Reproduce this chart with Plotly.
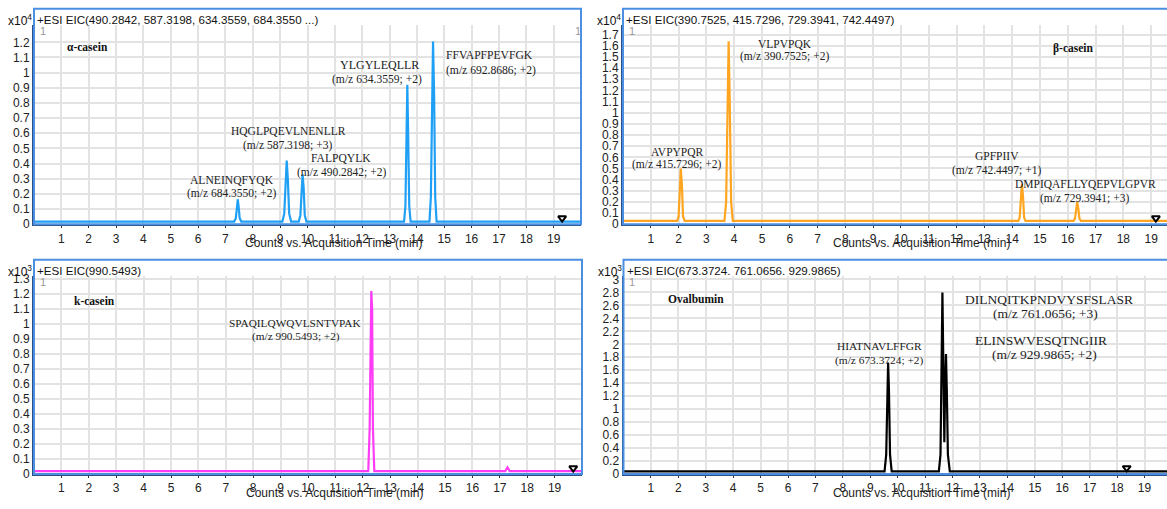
import plotly.graph_objects as go

# ---------------- data ----------------
x_ticks = list(range(1, 20))

# alpha-casein EIC, counts x10^4
alpha_time = [0.0, 7.32, 7.38, 7.42, 7.45, 7.48, 7.52, 7.58,
              9.08, 9.15, 9.20, 9.24, 9.28, 9.33, 9.40,
              9.68, 9.74, 9.78, 9.82, 9.86, 9.90, 9.96,
              13.53, 13.58, 13.62, 13.65, 13.68, 13.72, 13.77,
              14.46, 14.51, 14.55, 14.59, 14.63, 14.67, 14.72, 20.0]
alpha_counts = [0.018, 0.018, 0.04, 0.12, 0.165, 0.12, 0.04, 0.018,
                0.018, 0.07, 0.30, 0.42, 0.30, 0.07, 0.018,
                0.018, 0.06, 0.24, 0.33, 0.24, 0.06, 0.018,
                0.018, 0.12, 0.60, 0.92, 0.60, 0.12, 0.018,
                0.018, 0.18, 0.85, 1.205, 0.85, 0.18, 0.018, 0.018]
alpha_yticks = [0, 0.1, 0.2, 0.3, 0.4, 0.5, 0.6, 0.7, 0.8, 0.9, 1.0, 1.1, 1.2]

# beta-casein EIC, counts x10^4
beta_time = [0.0, 1.95, 2.00, 2.04, 2.08, 2.12, 2.16, 2.22,
             3.65, 3.71, 3.76, 3.80, 3.84, 3.89, 3.95,
             14.22, 14.27, 14.31, 14.35, 14.39, 14.43, 14.48,
             16.21, 16.26, 16.30, 16.34, 16.38, 16.42, 16.47, 20.0]
beta_counts = [0.03, 0.03, 0.07, 0.35, 0.50, 0.35, 0.07, 0.03,
               0.03, 0.20, 1.10, 1.64, 1.10, 0.20, 0.03,
               0.03, 0.06, 0.25, 0.36, 0.25, 0.06, 0.03,
               0.03, 0.05, 0.14, 0.20, 0.14, 0.05, 0.03, 0.03]
beta_yticks = [0, 0.1, 0.2, 0.3, 0.4, 0.5, 0.6, 0.7, 0.8, 0.9,
               1.0, 1.1, 1.2, 1.3, 1.4, 1.5, 1.6, 1.7]

# kappa-casein EIC, counts x10^3
kappa_time = [0.0, 12.20, 12.25, 12.28, 12.31, 12.34, 12.37, 12.42,
              17.20, 17.28, 17.36, 20.0]
kappa_counts = [0.02, 0.02, 0.30, 1.10, 1.22, 1.10, 0.30, 0.02,
                0.02, 0.045, 0.02, 0.02]
kappa_yticks = [0, 0.1, 0.2, 0.3, 0.4, 0.5, 0.6, 0.7, 0.8, 0.9,
                1.0, 1.1, 1.2, 1.3]

# Ovalbumin EIC, counts x10^3
oval_time = [0.0, 9.52, 9.58, 9.62, 9.65, 9.68, 9.72, 9.78,
             11.50, 11.56, 11.60, 11.63, 11.67, 11.70, 11.73, 11.76, 11.79, 11.83, 11.90, 20.0]
oval_counts = [0.04, 0.04, 0.30, 1.30, 1.72, 1.30, 0.30, 0.04,
               0.04, 0.30, 1.90, 2.80, 1.50, 0.49, 1.40, 1.85, 1.30, 0.30, 0.04, 0.04]
oval_yticks = [0, 0.2, 0.4, 0.6, 0.8, 1.0, 1.2, 1.4, 1.6, 1.8, 2.0,
               2.2, 2.4, 2.6, 2.8, 3.0]

# end-of-run markers (time, counts)
marker_alpha = ([19.31], [0.041])
marker_beta = ([19.17], [0.056])
marker_kappa = ([19.68], [0.040])
marker_oval = ([18.35], [0.094])

# ---------------- figure ----------------
W, H = 1167, 509
SANS = "Liberation Sans, Arial, sans-serif"
SERIF = "Liberation Serif, Times New Roman, serif"
FRAME = "#4b8fe2"
AXIS = "#2b4f86"
GRID = "#e3e3e3"

fig = go.Figure()

panels = [
    dict(t=alpha_time, c=alpha_counts, color="#1fa0f5", mk=marker_alpha, xa="x", ya="y"),
    dict(t=beta_time, c=beta_counts, color="#ffa51f", mk=marker_beta, xa="x2", ya="y2"),
    dict(t=kappa_time, c=kappa_counts, color="#ff3cf5", mk=marker_kappa, xa="x3", ya="y3"),
    dict(t=oval_time, c=oval_counts, color="#000000", mk=marker_oval, xa="x4", ya="y4"),
]
for p in panels:
    fig.add_trace(go.Scatter(x=p["t"], y=p["c"], mode="lines",
                             line=dict(color=p["color"], width=2.2),
                             xaxis=p["xa"], yaxis=p["ya"], showlegend=False,
                             hoverinfo="skip"))
    fig.add_trace(go.Scatter(x=p["mk"][0], y=p["mk"][1], mode="markers",
                             marker=dict(symbol="triangle-down", size=7, color="white",
                                         line=dict(color="black", width=2)),
                             xaxis=p["xa"], yaxis=p["ya"], showlegend=False,
                             hoverinfo="skip"))


def xaxis(dom, rng):
    return dict(domain=dom, range=rng, tickvals=x_ticks, ticks="outside", ticklen=2,
                tickcolor="#333", tickfont=dict(family=SANS, size=12, color="#222"),
                showgrid=True, gridcolor=GRID, gridwidth=2, showline=True,
                linecolor=AXIS, linewidth=2, zeroline=False)


def yaxis(dom, rng, ticks, anchor):
    return dict(domain=dom, range=rng, tickvals=ticks, ticks="",
                tickfont=dict(family=SANS, size=12, color="#222"),
                showgrid=True, gridcolor=GRID, gridwidth=2, showline=True,
                linecolor=AXIS, linewidth=2, zeroline=False, anchor=anchor)


top_dom = [1 - 225.7 / H, 1 - 22 / H]
bot_dom = [1 - 480.5 / H, 1 - 278 / H]
left_dom = [34 / W, 581 / W]
right_dom = [623 / W, 1.0]

fig.update_layout(
    width=W, height=H, margin=dict(l=0, r=0, t=0, b=0),
    paper_bgcolor="white", plot_bgcolor="white",
    xaxis=dict(xaxis(left_dom, [0, 20]), anchor="y"),
    yaxis=yaxis(top_dom, [0, 1.317], alpha_yticks, "x"),
    xaxis2=dict(xaxis(right_dom, [0, 19.57]), anchor="y2"),
    yaxis2=yaxis(top_dom, [0, 1.79], beta_yticks, "x2"),
    xaxis3=dict(xaxis([34 / W, 582 / W], [0, 20]), anchor="y3"),
    yaxis3=yaxis(bot_dom, [0, 1.323], kappa_yticks, "x3"),
    xaxis4=dict(xaxis([623.5 / W, 1.0], [0, 19.82]), anchor="y4"),
    yaxis4=yaxis(bot_dom, [0, 3.06], oval_yticks, "x4"),
)

# panel frames and headers
headers = [
    ("x", "y", "+ESI EIC(490.2842, 587.3198, 634.3559, 684.3550 ...)", "4", 1.0),
    ("x2", "y2", "+ESI EIC(390.7525, 415.7296, 729.3941, 742.4497)", "4", 1.05),
    ("x3", "y3", "+ESI EIC(990.5493)", "3", 1.0),
    ("x4", "y4", "+ESI EIC(673.3724. 761.0656. 929.9865)", "3", 1.05),
]
for xa, ya, text, exp, xr in headers:
    xd, yd = xa + " domain", ya + " domain"
    fig.add_shape(type="rect", xref=xd, yref=yd, x0=0, x1=xr, y0=0, y1=1.079,
                  line=dict(color=FRAME, width=2), layer="above")
    fig.add_annotation(xref=xd, yref=yd, x=0.002, y=1.025, xanchor="left", yanchor="middle",
                       text=text, showarrow=False,
                       font=dict(family=SANS, size=11.6, color="#111"))
    fig.add_annotation(xref=xd, yref=yd, x=0.0, y=1.025, xanchor="right", yanchor="middle",
                       text="x10<sup>" + exp + "</sup>", showarrow=False,
                       font=dict(family=SANS, size=12, color="#111"))
    fig.add_annotation(xref=xd, yref=yd, x=0.007, y=0.966, xanchor="left", yanchor="middle",
                       text="1", showarrow=False,
                       font=dict(family=SANS, size=11, color="#999"))
    fig.add_annotation(xref=xd, yref=yd, x=0.548, y=-0.095, xanchor="center", yanchor="middle",
                       text="Counts vs. Acquisition Time (min)", showarrow=False,
                       font=dict(family=SANS, size=12, color="#222"))

fig.add_annotation(xref="x domain", yref="y domain", x=0.994, y=0.97, xanchor="center",
                   yanchor="middle", text="1", showarrow=False,
                   font=dict(family=SANS, size=11, color="#999"))

# protein names
proteins = [
    ("x", "y", 1.97, 1.167, "α-casein"),
    ("x2", "y2", 16.2, 1.573, "β-casein"),
    ("x3", "y3", 2.19, 1.152, "k-casein"),
    ("x4", "y4", 2.63, 2.70, "Ovalbumin"),
]
for xa, ya, x, y, name in proteins:
    fig.add_annotation(xref=xa, yref=ya, x=x, y=y, text="<b>" + name + "</b>",
                       showarrow=False, font=dict(family=SERIF, size=11.5, color="#111"))

# peptide labels: one entry per text line (axis pair, time, counts, text, font size)
peptide_lines = [
    ("x", "y", 7.23, 0.291, "ALNEINQFYQK", 11.6),
    ("x", "y", 7.21, 0.203, "(m/z 684.3550; +2)", 11.5),
    ("x", "y", 9.29, 0.612, "HQGLPQEVLNENLLR", 11.5),
    ("x", "y", 9.27, 0.522, "(m/z 587.3198; +3)", 11.5),
    ("x", "y", 11.22, 0.436, "FALPQYLK", 11.6),
    ("x", "y", 11.26, 0.343, "(m/z 490.2842; +2)", 11.5),
    ("x", "y", 12.65, 1.050, "YLGYLEQLLR", 12.0),
    ("x", "y", 12.53, 0.957, "(m/z 634.3559; +2)", 11.6),
    ("x", "y", 16.67, 1.110, "FFVAPFPEVFGK", 11.6),
    ("x", "y", 16.70, 1.017, "(m/z 692.8686; +2)", 11.6),
    ("x2", "y2", 5.83, 1.612, "VLPVPQK", 11.5),
    ("x2", "y2", 5.82, 1.500, "(m/z 390.7525; +2)", 11.5),
    ("x2", "y2", 1.96, 0.650, "AVPYPQR", 11.5),
    ("x2", "y2", 1.91, 0.533, "(m/z 415.7296; +2)", 11.5),
    ("x2", "y2", 13.44, 0.612, "GPFPIIV", 11.5),
    ("x2", "y2", 13.43, 0.481, "(m/z 742.4497; +1)", 11.5),
    ("x2", "y2", 16.65, 0.364, "DMPIQAFLLYQEPVLGPVR", 11.5),
    ("x2", "y2", 16.61, 0.232, "(m/z 729.3941; +3)", 11.5),
    ("x3", "y3", 9.54, 1.005, "SPAQILQWQVLSNTVPAK", 11.3),
    ("x3", "y3", 9.55, 0.918, "(m/z 990.5493; +2)", 11.3),
    ("x4", "y4", 9.34, 1.971, "HIATNAVLFFGR", 11.4),
    ("x4", "y4", 9.33, 1.745, "(m/z 673.3724; +2)", 11.4),
    ("x4", "y4", 15.50, 2.696, "DILNQITKPNDVYSFSLASR", 13.5),
    ("x4", "y4", 15.39, 2.470, "(m/z 761.0656; +3)", 13.5),
    ("x4", "y4", 15.21, 2.062, "ELINSWVESQTNGIIR", 13.5),
    ("x4", "y4", 15.36, 1.850, "(m/z 929.9865; +2)", 13.5),
]
for xa, ya, x, y, line, size in peptide_lines:
    fig.add_annotation(xref=xa, yref=ya, x=x, y=y, text=line, showarrow=False,
                       font=dict(family=SERIF, size=size, color="#222"))

fig.write_html("out.html")
